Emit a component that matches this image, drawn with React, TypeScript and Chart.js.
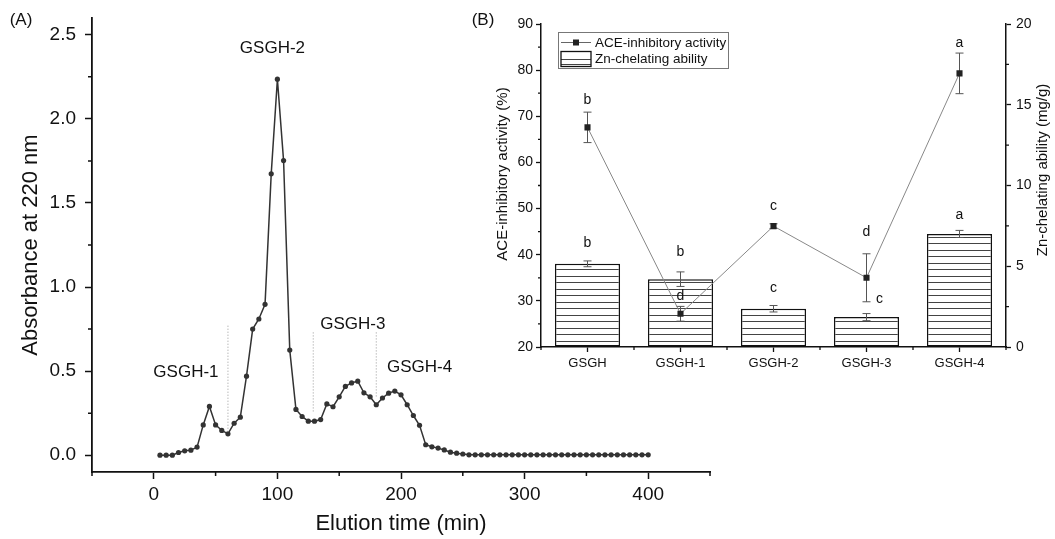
import React, { useEffect, useRef } from 'react';
import { Chart, registerables } from 'chart.js';
Chart.register(...registerables);

const FONT = '"Liberation Sans", Arial, Helvetica, sans-serif';
const INK = '#111';

// ---------- Panel A data ----------
const timeMin = [
  5, 10, 15, 20, 25, 30, 35, 40, 45, 50,
  55, 60, 65, 70, 75, 80, 85, 90, 95, 100,
  105, 110, 115, 120, 125, 130, 135, 140, 145, 150,
  155, 160, 165, 170, 175, 180, 185, 190, 195, 200,
  205, 210, 215, 220, 225, 230, 235, 240, 245, 250,
  255, 260, 265, 270, 275, 280, 285, 290, 295, 300,
  305, 310, 315, 320, 325, 330, 335, 340, 345, 350,
  355, 360, 365, 370, 375, 380, 385, 390, 395, 400,
];
const absorbance = [
  0.0, 0.0, 0.0, 0.016, 0.026, 0.03, 0.048, 0.18, 0.29, 0.18,
  0.147, 0.127, 0.19, 0.226, 0.47, 0.75, 0.81, 0.897, 1.673, 2.236,
  1.752, 0.625, 0.272, 0.23, 0.202, 0.202, 0.212, 0.305, 0.288, 0.347,
  0.409, 0.43, 0.44, 0.371, 0.347, 0.3, 0.34, 0.369, 0.381, 0.359,
  0.3, 0.236, 0.178, 0.062, 0.05, 0.042, 0.031, 0.018, 0.012, 0.007,
  0.002, 0.002, 0.002, 0.002, 0.002, 0.002, 0.002, 0.002, 0.002, 0.002,
  0.002, 0.002, 0.002, 0.002, 0.002, 0.002, 0.002, 0.002, 0.002, 0.002,
  0.002, 0.002, 0.002, 0.002, 0.002, 0.002, 0.002, 0.002, 0.002, 0.002,
];
const xTicksA = [0, 100, 200, 300, 400];
const xMinorA = [-50, 50, 150, 250, 350, 450];
const yTicksA = [0, 0.5, 1.0, 1.5, 2.0, 2.5];
const yMinorA = [0.25, 0.75, 1.25, 1.75, 2.25];

const peakLabels = ['GSGH-1', 'GSGH-2', 'GSGH-3', 'GSGH-4'];
const peakLabelTime = [26, 96, 161, 215];
const peakLabelAbs = [0.49, 2.42, 0.78, 0.52];
const cutTimes = [60, 129, 180];
const cutTop = [0.77, 0.73, 0.73];
const cutBottom = [0.14, 0.26, 0.34];

// ---------- Panel B data ----------
const groups = ['GSGH', 'GSGH-1', 'GSGH-2', 'GSGH-3', 'GSGH-4'];
const aceActivity = [67.6, 27.2, 46.2, 35.0, 79.3];
const aceErr = [3.3, 1.6, 0.5, 5.2, 4.4];
const znChelating = [5.15, 4.2, 2.37, 1.85, 7.0];
const znErr = [0.18, 0.45, 0.2, 0.22, 0.22];
const aceLetters = ['b', 'd', 'c', 'd', 'a'];
const aceLetterY = [73.6, 31.0, 50.5, 45.0, 85.9];
const znLetters = ['b', 'b', 'c', 'c', 'a'];
const znLetterY = [6.45, 5.9, 3.63, 2.95, 8.18];
const znLetterShift = [0, 0, 0, 0.14, 0];
const yTicksB = [20, 30, 40, 50, 60, 70, 80, 90];
const yMinorB = [25, 35, 45, 55, 65, 75, 85];
const y2TicksB = [0, 5, 10, 15, 20];
const y2MinorB = [2.5, 7.5, 12.5, 17.5];

function zeroPad(s: any) {
  s.paddingTop = 0;
  s.paddingBottom = 0;
  s.paddingLeft = 0;
  s.paddingRight = 0;
}

function text(ctx: CanvasRenderingContext2D, str: string, x: number, y: number, size: number, rot = 0, align: CanvasTextAlign = 'center') {
  ctx.save();
  ctx.translate(x, y);
  if (rot) ctx.rotate(rot);
  ctx.font = `${size}px ${FONT}`;
  ctx.fillStyle = INK;
  ctx.textAlign = align;
  ctx.textBaseline = 'middle';
  ctx.fillText(str, 0, 0);
  ctx.restore();
}

const panelAPlugin = {
  id: 'panelA',
  afterDraw(chart: any) {
    const ctx: CanvasRenderingContext2D = chart.ctx;
    const xs = chart.scales.x;
    const ys = chart.scales.y;
    ctx.save();
    // minor ticks
    ctx.strokeStyle = INK;
    ctx.lineWidth = 1.5;
    const ax = ys.right;
    const ay = xs.top;
    ctx.beginPath();
    yMinorA.forEach((v) => {
      const p = ys.getPixelForValue(v);
      ctx.moveTo(ax - 4, p);
      ctx.lineTo(ax, p);
    });
    xMinorA.forEach((v) => {
      const p = xs.getPixelForValue(v);
      ctx.moveTo(p, ay);
      ctx.lineTo(p, ay + 4);
    });
    ctx.stroke();
    // dotted cut lines
    ctx.strokeStyle = '#999';
    ctx.lineWidth = 1;
    ctx.setLineDash([1, 2]);
    cutTimes.forEach((t, i) => {
      const px = xs.getPixelForValue(t);
      ctx.beginPath();
      ctx.moveTo(px, ys.getPixelForValue(cutTop[i]));
      ctx.lineTo(px, ys.getPixelForValue(cutBottom[i]));
      ctx.stroke();
    });
    ctx.setLineDash([]);
    ctx.restore();
    // peak labels
    peakLabels.forEach((l, i) => {
      text(ctx, l, xs.getPixelForValue(peakLabelTime[i]), ys.getPixelForValue(peakLabelAbs[i]), 17);
    });
    // titles
    text(ctx, '(A)', 21, 20, 17);
    text(ctx, 'Absorbance at 220 nm', 31, 245, 22, -Math.PI / 2);
    text(ctx, 'Elution time (min)', 401, 524, 22);
  },
};

function makeHatch(): CanvasPattern | string {
  const c = document.createElement('canvas');
  c.width = 10;
  c.height = 13;
  const g = c.getContext('2d');
  if (!g) return '#fff';
  g.fillStyle = '#fff';
  g.fillRect(0, 0, 10, 13);
  g.fillStyle = '#444';
  g.fillRect(0, 3, 10, 1);
  g.fillRect(0, 9, 10, 1);
  return g.createPattern(c, 'repeat') || '#fff';
}

function errBar(ctx: CanvasRenderingContext2D, x: number, y1: number, y2: number) {
  ctx.beginPath();
  ctx.moveTo(x, y1);
  ctx.lineTo(x, y2);
  ctx.moveTo(x - 4, y1);
  ctx.lineTo(x + 4, y1);
  ctx.moveTo(x - 4, y2);
  ctx.lineTo(x + 4, y2);
  ctx.stroke();
}

const panelBPlugin = {
  id: 'panelB',
  beforeDatasetDraw(chart: any, args: any) {
    if (args.index !== 0) return;
    const ctx: CanvasRenderingContext2D = chart.ctx;
    const xs = chart.scales.x;
    const ys = chart.scales.y;
    ctx.save();
    ctx.strokeStyle = '#555';
    ctx.lineWidth = 1;
    aceActivity.forEach((v, i) => {
      errBar(ctx, xs.getPixelForValue(i), ys.getPixelForValue(v + aceErr[i]), ys.getPixelForValue(v - aceErr[i]));
    });
    ctx.restore();
  },
  afterDatasetDraw(chart: any, args: any) {
    if (args.index !== 1) return;
    const ctx: CanvasRenderingContext2D = chart.ctx;
    const xs = chart.scales.x;
    const ys = chart.scales.y2;
    ctx.save();
    ctx.strokeStyle = '#555';
    ctx.lineWidth = 1;
    znChelating.forEach((v, i) => {
      errBar(ctx, xs.getPixelForValue(i), ys.getPixelForValue(v + znErr[i]), ys.getPixelForValue(v - znErr[i]));
    });
    ctx.restore();
  },
  afterDraw(chart: any) {
    const ctx: CanvasRenderingContext2D = chart.ctx;
    const xs = chart.scales.x;
    const ys = chart.scales.y;
    const y2 = chart.scales.y2;
    const area = chart.chartArea;
    ctx.save();
    ctx.strokeStyle = INK;
    ctx.lineWidth = 1.3;
    ctx.beginPath();
    yMinorB.forEach((v) => {
      const p = ys.getPixelForValue(v);
      ctx.moveTo(area.left - 3, p);
      ctx.lineTo(area.left, p);
    });
    y2MinorB.forEach((v) => {
      const p = y2.getPixelForValue(v);
      ctx.moveTo(area.right, p);
      ctx.lineTo(area.right + 3, p);
    });
    for (let i = 0; i <= groups.length; i++) {
      const p = xs.getPixelForValue(i - 0.5);
      ctx.moveTo(p, area.bottom);
      ctx.lineTo(p, area.bottom + 3);
    }
    ctx.stroke();
    ctx.restore();

    // letters
    aceLetters.forEach((l, i) => text(ctx, l, xs.getPixelForValue(i), ys.getPixelForValue(aceLetterY[i]), 14));
    znLetters.forEach((l, i) => text(ctx, l, xs.getPixelForValue(i + znLetterShift[i]), y2.getPixelForValue(znLetterY[i]), 14));

    // legend
    ctx.save();
    ctx.strokeStyle = '#777';
    ctx.lineWidth = 1;
    ctx.strokeRect(98.5, 32.5, 170, 36);
    ctx.strokeStyle = '#666';
    ctx.beginPath();
    ctx.moveTo(101, 42.5);
    ctx.lineTo(131, 42.5);
    ctx.stroke();
    ctx.fillStyle = '#222';
    ctx.fillRect(113, 39.5, 6, 6);
    ctx.fillStyle = '#fff';
    ctx.fillRect(101, 51.5, 30, 15);
    ctx.strokeStyle = '#444';
    ctx.beginPath();
    ctx.moveTo(101, 59.5);
    ctx.lineTo(131, 59.5);
    ctx.moveTo(101, 64.5);
    ctx.lineTo(131, 64.5);
    ctx.stroke();
    ctx.strokeStyle = INK;
    ctx.lineWidth = 1.3;
    ctx.strokeRect(101, 51.5, 30, 15);
    ctx.restore();
    text(ctx, 'ACE-inhibitory activity', 135, 43, 13.5, 0, 'left');
    text(ctx, 'Zn-chelating ability', 135, 59.5, 13.5, 0, 'left');

    // titles
    text(ctx, '(B)', 23, 20, 17);
    text(ctx, 'ACE-inhibitory activity (%)', 43, 174, 15, -Math.PI / 2);
    text(ctx, 'Zn-chelating ability (mg/g)', 583, 170, 15, -Math.PI / 2);
  },
};

export default function App() {
  const refA = useRef<HTMLCanvasElement>(null);
  const refB = useRef<HTMLCanvasElement>(null);

  useEffect(() => {
    const points = timeMin.map((t, i) => ({ x: t, y: absorbance[i] }));
    const tickFontA = { family: FONT, size: 19 };
    const chartA = new Chart(refA.current as HTMLCanvasElement, {
      type: 'line',
      data: {
        datasets: [
          {
            data: points,
            borderColor: '#333',
            borderWidth: 1.5,
            pointRadius: 2.6,
            pointBackgroundColor: '#333',
            pointBorderWidth: 0,
            tension: 0,
          },
        ],
      },
      options: {
        responsive: false,
        animation: false,
        layout: { padding: { top: 18, right: 345, left: 0, bottom: 0 } },
        plugins: { legend: { display: false }, tooltip: { enabled: false } },
        scales: {
          x: {
            type: 'linear',
            min: -50,
            max: 450,
            afterBuildTicks: (s: any) => {
              s.ticks = xTicksA.map((v) => ({ value: v }));
            },
            afterFit: (s: any) => {
              s.height = 67;
              zeroPad(s);
            },
            grid: { drawOnChartArea: false, tickLength: 7, tickColor: INK, tickWidth: 1.5 },
            border: { color: INK, width: 1.8 },
            ticks: { font: tickFontA, color: INK, padding: 4, maxRotation: 0 },
          },
          y: {
            type: 'linear',
            min: -0.1,
            max: 2.6,
            afterBuildTicks: (s: any) => {
              s.ticks = yTicksA.map((v) => ({ value: v }));
            },
            afterFit: (s: any) => {
              s.width = 92;
              zeroPad(s);
            },
            grid: { drawOnChartArea: false, tickLength: 7, tickColor: INK, tickWidth: 1.5 },
            border: { color: INK, width: 1.8 },
            ticks: {
              font: tickFontA,
              color: INK,
              padding: 9,
              callback: (v: any) => Number(v).toFixed(1),
            },
          },
        },
      } as any,
      plugins: [panelAPlugin],
    });

    const tickFontB = { family: FONT, size: 14 };
    const chartB = new Chart(refB.current as HTMLCanvasElement, {
      type: 'bar',
      data: {
        labels: groups,
        datasets: [
          {
            type: 'line',
            label: 'ACE-inhibitory activity',
            data: aceActivity,
            yAxisID: 'y',
            borderColor: '#888',
            borderWidth: 1,
            pointStyle: 'rect',
            pointRadius: 4.3,
            pointBackgroundColor: '#222',
            pointBorderColor: '#222',
            pointBorderWidth: 0,
            tension: 0,
            order: 0,
          } as any,
          {
            type: 'bar',
            label: 'Zn-chelating ability',
            data: znChelating,
            yAxisID: 'y2',
            backgroundColor: makeHatch(),
            borderColor: INK,
            borderWidth: 1.5,
            borderSkipped: false,
            barPercentage: 0.7,
            categoryPercentage: 1,
            order: 1,
          } as any,
        ],
      },
      options: {
        responsive: false,
        animation: false,
        layout: { padding: { top: 24, right: 0, left: 0, bottom: 0 } },
        plugins: { legend: { display: false }, tooltip: { enabled: false } },
        scales: {
          x: {
            type: 'category',
            offset: true,
            afterFit: (s: any) => {
              s.height = 33;
              zeroPad(s);
            },
            grid: { offset: false, drawOnChartArea: false, tickLength: 5, tickColor: INK, tickWidth: 1.3 },
            border: { color: INK, width: 1.5 },
            ticks: { font: { family: FONT, size: 13 }, color: INK, padding: 4, maxRotation: 0 },
          },
          y: {
            type: 'linear',
            position: 'left',
            min: 20,
            max: 90,
            afterBuildTicks: (s: any) => {
              s.ticks = yTicksB.map((v) => ({ value: v }));
            },
            afterFit: (s: any) => {
              s.width = 81;
              zeroPad(s);
            },
            grid: { drawOnChartArea: false, tickLength: 5, tickColor: INK, tickWidth: 1.3 },
            border: { color: INK, width: 1.5 },
            ticks: { font: tickFontB, color: INK, padding: 3 },
          },
          y2: {
            type: 'linear',
            position: 'right',
            min: 0,
            max: 20,
            afterBuildTicks: (s: any) => {
              s.ticks = y2TicksB.map((v) => ({ value: v }));
            },
            afterFit: (s: any) => {
              s.width = 49;
              zeroPad(s);
            },
            grid: { drawOnChartArea: false, tickLength: 5, tickColor: INK, tickWidth: 1.3 },
            border: { color: INK, width: 1.5 },
            ticks: { font: tickFontB, color: INK, padding: 5 },
          },
        },
      } as any,
      plugins: [panelBPlugin],
    });

    return () => {
      chartA.destroy();
      chartB.destroy();
    };
  }, []);

  return (
    <div style={{ position: 'absolute', left: 0, top: 0, width: 1055, height: 539, background: '#fff' }}>
      <canvas ref={refA} width={1055} height={539} style={{ position: 'absolute', left: 0, top: 0, display: 'block' }} />
      <canvas ref={refB} width={595} height={380} style={{ position: 'absolute', left: 460, top: 0, display: 'block' }} />
    </div>
  );
}
